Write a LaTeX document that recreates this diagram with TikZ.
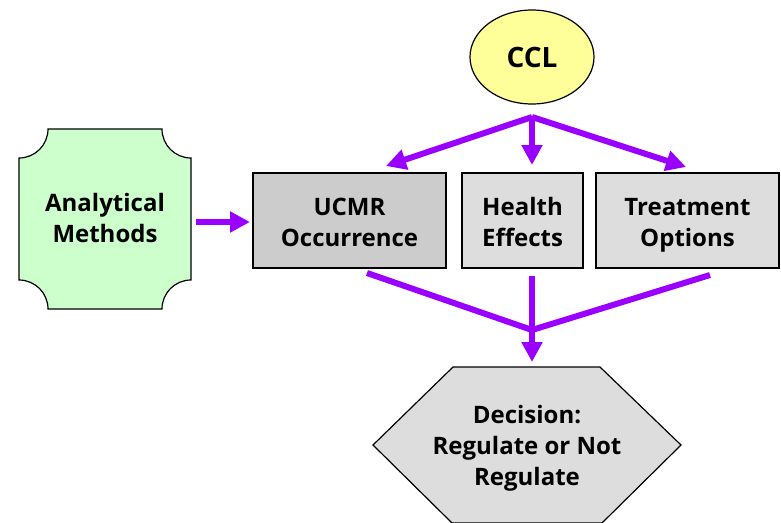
\documentclass[tikz,border=0pt]{standalone}
\usepackage{fontspec}
\setmainfont{Open Sans}
\usetikzlibrary{arrows.meta,shapes.geometric}
\definecolor{arrowpurple}{RGB}{153,0,255}
\definecolor{cclyellow}{RGB}{255,255,153}
\definecolor{anagreen}{RGB}{204,255,204}
\definecolor{boxgrayA}{RGB}{204,204,204}
\definecolor{boxgrayB}{RGB}{221,221,221}
\begin{document}
\begin{tikzpicture}[x=1pt,y=-1pt,
  lbl/.style={font=\fontsize{24}{31}\selectfont\bfseries, align=center, text=black},
  boxshape/.style={draw=black, line width=1.2pt, inner sep=0pt, minimum height=95pt},
  arr/.style={draw=arrowpurple, line width=6pt, -{Triangle[width=20pt,length=20pt]}},
  plain/.style={draw=arrowpurple, line width=6pt}
]
\useasboundingbox (0,0) rectangle (781,522);

% CCL ellipse
\node[ellipse, draw=black, line width=1.2pt, fill=cclyellow, minimum width=124pt, minimum height=94pt,
      font=\fontsize{28}{34}\selectfont\bfseries] (ccl) at (532,57) {CCL};

% Analytical Methods (concave-corner box)
\filldraw[fill=anagreen, draw=black, line width=1.2pt]
  (48,129) -- (162,129) arc[start angle=180, end angle=90, radius=29]
  -- (191,280) arc[start angle=270, end angle=180, radius=29]
  -- (48,309) arc[start angle=0, end angle=-90, radius=29]
  -- (19,158) arc[start angle=90, end angle=0, radius=29] -- cycle;
\node[lbl, inner sep=0pt] (anal) at (105,221) {\strut Analytical\\Methods\strut};

% Boxes
\node[boxshape, fill=boxgrayA, minimum width=193pt] (ucmr) at (349.5,220.5) {};
\node[lbl, inner sep=0pt] (ucmrtxt) at (349.5,224.5) {\strut UCMR\\Occurrence\strut};
\node[boxshape, fill=boxgrayB, minimum width=121pt] (health) at (522.5,220.5) {};
\node[lbl, inner sep=0pt] (healthtxt) at (522.5,224.5) {\strut Health\\Effects\strut};
\node[boxshape, fill=boxgrayB, minimum width=183pt] (treat) at (687.5,220.5) {};
\node[lbl, inner sep=0pt] (treattxt) at (687.5,224.5) {\strut Treatment\\Options\strut};

% Decision hexagon
\filldraw[fill=boxgrayB, draw=black, line width=1.2pt]
  (373,445) -- (453,367) -- (600,367) -- (681,445) -- (602,523) -- (452,523) -- cycle;
\node[lbl, inner sep=0pt] (dec) at (527,448) {\strut Decision:\\Regulate or Not\\Regulate\strut};

% Connector coordinates
\coordinate (fork) at (532,117);
\coordinate (tipL) at (386,166);
\coordinate (tipM) at (532,165);
\coordinate (tipR) at (686,167);
\coordinate (srcL) at (367,273);
\coordinate (srcM) at (532,276);
\coordinate (srcR) at (710,275);
\coordinate (join) at (532,330);
\coordinate (decTip) at (532,362);
\coordinate (aStart) at (196,222);
\coordinate (aTip) at (250,222);

% CCL fork arrows
\draw[arr] (fork) -- (tipL);
\draw[arr] (fork) -- (tipM);
\draw[arr] (fork) -- (tipR);

% Analytical -> UCMR
\draw[arr] (aStart) -- (aTip);

% Bottom converging arrows
\draw[plain] (srcL) -- (join);
\draw[plain] (srcR) -- (join);
\draw[arr] (srcM) -- (decTip);
\end{tikzpicture}
\end{document}
